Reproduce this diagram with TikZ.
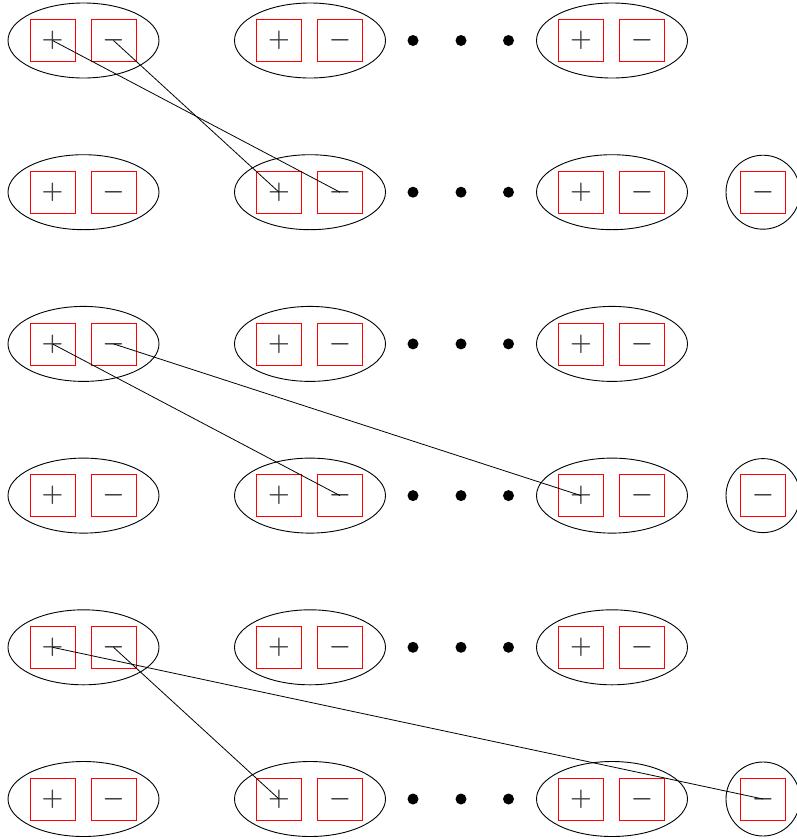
\documentclass[tikz,border=0pt]{standalone}
\usepackage{bm}
\usetikzlibrary{shapes.geometric}
\begin{document}
\begin{tikzpicture}[x=1pt,y=-1pt,
  grp/.style={draw=black,ellipse,minimum width=151,minimum height=75,inner sep=0pt,line width=0.9pt},
  solo/.style={draw=black,circle,minimum size=74,inner sep=0pt,line width=0.9pt},
  sq/.style={draw=red,minimum width=45,minimum height=42,inner sep=0pt,line width=0.8pt,text=black!75,font=\fontsize{29}{29}\selectfont},
  dot/.style={fill=black,circle,minimum size=11,inner sep=0pt},
  link/.style={draw=black,line width=0.8pt}]
\useasboundingbox (0,0) rectangle (797,839);
\clip (0,0) rectangle (797,839);
\foreach \r in {1,...,6}{
  \pgfmathsetmacro{\yy}{40.5+151.7*(\r-1)}
  \foreach \c/\cx in {a/83.5,b/310,c/612}{
    \node[grp] (e\r\c) at (\cx,\yy) {};
    \node[sq] (p\r\c) at (\cx-31,\yy) {$\bm{+}$};
    \node[sq] (m\r\c) at (\cx+30,\yy) {$\bm{-}$};
  }
  \foreach \i/\dx in {1/413,2/461,3/508.5}{
    \node[dot] (d\r\i) at (\dx,\yy) {};
  }
}
\foreach \r in {2,4,6}{
  \pgfmathsetmacro{\yy}{40.5+151.7*(\r-1)}
  \node[solo] (s\r) at (763,\yy) {};
  \node[sq] (q\r) at (763,\yy) {$\bm{-}$};
}
\draw[link] (p1a.center) -- (m2b.center);
\draw[link] (m1a.center) -- (p2b.center);
\draw[link] (p3a.center) -- (m4b.center);
\draw[link] (m3a.center) -- (p4c.center);
\draw[link] (p5a.center) -- (q6.center);
\draw[link] (m5a.center) -- (p6b.center);
\end{tikzpicture}
\end{document}
